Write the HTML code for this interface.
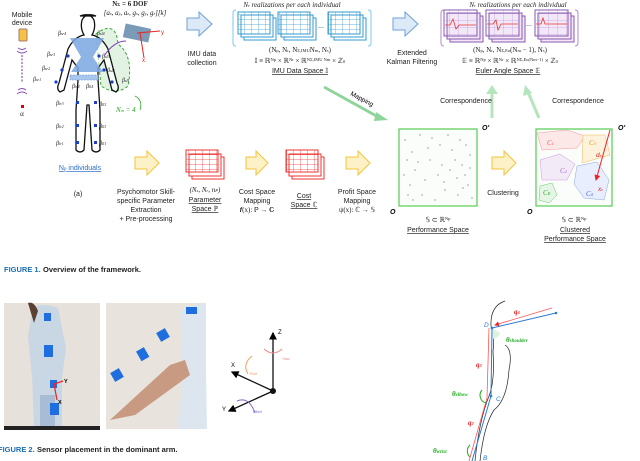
<!DOCTYPE html>
<html><head><meta charset="utf-8"><style>
html,body{margin:0;padding:0;background:#fff;}
svg{display:block;font-family:"Liberation Sans",sans-serif;}
.t{font-size:7px;fill:#222;text-anchor:middle}
.m{font-family:"Liberation Serif",serif;font-size:7px;fill:#222;text-anchor:middle}
</style></head><body>
<svg width="640" height="461" viewBox="0 0 640 461">
<defs>
<pattern id="gb" width="7" height="5" patternUnits="userSpaceOnUse"><path d="M7 0V5M0 5H7" stroke="#39c" stroke-width="0.7" fill="none"/></pattern>
<pattern id="gr" width="7" height="5" patternUnits="userSpaceOnUse"><path d="M7 0V5M0 5H7" stroke="#e33" stroke-width="0.7" fill="none"/></pattern>
<pattern id="gp" width="9" height="7" patternUnits="userSpaceOnUse"><path d="M9 0V7M0 7H9" stroke="#a7c" stroke-width="0.5" fill="none"/></pattern>
<marker id="ar" markerWidth="6" markerHeight="6" refX="5" refY="3" orient="auto"><path d="M0,0L6,3L0,6z" fill="#000"/></marker>
<marker id="arr" markerWidth="6" markerHeight="6" refX="5" refY="3" orient="auto"><path d="M0,0L6,3L0,6z" fill="#e22"/></marker>
</defs>
<!-- mobile -->
<text class="t" x="22" y="17">Mobile</text>
<text class="t" x="22" y="25">device</text>
<rect x="19" y="29" width="8" height="12" rx="1" fill="#f5c242" stroke="#a77"/>
<path d="M18 48q4 3 8 0M17 51q5 4 10 0" stroke="#8a4fb5" fill="none"/>
<line x1="22" y1="55" x2="22" y2="83" stroke="#8a4fb5" stroke-dasharray="2,1.5" stroke-width="1.2"/>
<path d="M18 90q4-3 8 0M17 94q5-4 10 0" stroke="#8a4fb5" fill="none"/>
<rect x="21" y="105" width="3" height="3" fill="#d00"/>
<text class="m" x="22" y="116">α</text>
<!-- body -->
<path d="M96 34q20-15 22 10q16 12 10 42q-12 10-27 0z" fill="#e3f3e3" stroke="#3a3" stroke-dasharray="3,2"/>
<path d="M80 16q10-4 14 4q2 8-2 15q10 2 16 14l9 34q3 6-1 9l-4-2-8-30-6 8 0 12 2 30 0 40q-4 4-8 0l-3-45-2 0-3 45q-4 4-8 0l0-40 2-30 0-12-6-8-8 30-4 2q-4-3-1-9l9-34q6-12 16-14q-4-7-2-15q4-8 14-4z" fill="#fff" fill-opacity="0.6" stroke="#111" stroke-width="1.3"/>
<path d="M70 38l34 0-11 19 10 15-32 0 10-15z" fill="#7aa6e0" opacity="0.85"/>
<rect x="70" y="75" width="28" height="5" fill="#a8c6ee" stroke="#5b8fd8" stroke-dasharray="2,1" stroke-width="0.6"/>
<g fill="#1a3fd0"><circle cx="68" cy="56" r="1.6"/><circle cx="62" cy="70" r="1.6"/><circle cx="56" cy="82" r="1.6"/><circle cx="104" cy="70" r="1.6"/><circle cx="112" cy="82" r="1.6"/><circle cx="99" cy="56" r="1.6"/><rect x="76" y="101" width="3" height="3"/><rect x="94" y="101" width="3" height="3"/><rect x="76" y="124" width="3" height="3"/><rect x="94" y="124" width="3" height="3"/><rect x="76" y="141" width="3" height="3"/><rect x="94" y="141" width="3" height="3"/></g>
<g font-family="Liberation Serif" font-size="6" font-style="italic" fill="#222"><text x="58" y="35">β<tspan font-size="4">sr4</tspan></text><text x="97" y="35">β<tspan font-size="4">sl4</tspan></text><text x="47" y="56">β<tspan font-size="4">sr3</tspan></text><text x="102" y="58">β<tspan font-size="4">sl3</tspan></text><text x="42" y="70">β<tspan font-size="4">sr2</tspan></text><text x="107" y="72">β<tspan font-size="4">sl2</tspan></text><text x="33" y="81">β<tspan font-size="4">sr1</tspan></text><text x="122" y="82">β<tspan font-size="4">sl1</tspan></text><text x="72" y="88">β<tspan font-size="4">lr4</tspan></text><text x="86" y="88">β<tspan font-size="4">ll4</tspan></text><text x="56" y="105">β<tspan font-size="4">lr3</tspan></text><text x="99" y="106">β<tspan font-size="4">ll3</tspan></text><text x="56" y="128">β<tspan font-size="4">lr2</tspan></text><text x="99" y="128">β<tspan font-size="4">ll3</tspan></text><text x="56" y="145">β<tspan font-size="4">lr1</tspan></text><text x="99" y="145">β<tspan font-size="4">ll1</tspan></text></g>
<text x="116" y="112" fill="#2a2" font-family="Liberation Serif" font-size="7" font-style="italic">N<tspan font-size="4.5">m</tspan> = 4</text>
<path d="M135 96q8 4 5 14" stroke="#3a3" fill="none" stroke-width="0.8"/>
<text class="m" x="130" y="6" font-size="7" font-weight="bold">N<tspan font-size="4.5">Σ</tspan> = 6 DOF</text>
<text class="m" x="135" y="15" font-size="6.5" font-style="italic">[a<tspan font-size="4">x</tspan>, a<tspan font-size="4">y</tspan>, a<tspan font-size="4">z</tspan>, g<tspan font-size="4">x</tspan>, g<tspan font-size="4">y</tspan>, g<tspan font-size="4">z</tspan>][k]</text>
<rect x="124" y="26" width="26" height="14" fill="#7a9ab8" transform="rotate(12 137 33)"/>
<path d="M104 56q10-15 22-15" stroke="#7a3fb5" fill="none"/>
<line x1="137" y1="33" x2="160" y2="31" stroke="#e22" stroke-width="1"/><line x1="140" y1="33" x2="144" y2="58" stroke="#e22"/>
<text x="161" y="34" fill="#e22" font-size="6">y</text><text x="142" y="62" fill="#e22" font-size="6">x</text>
<text x="80" y="170" fill="#2b6cc4" font-size="7" text-anchor="middle" text-decoration="underline">N<tspan font-size="4.5">p</tspan> individuals</text>
<text class="t" x="78" y="196" font-size="8">(a)</text>
<!-- top arrows -->
<path d="M187 18h12v-6l13 12-13 12v-6h-12z" fill="#dce9f7" stroke="#6fa0d8"/>
<text class="t" x="202" y="56">IMU data</text><text class="t" x="202" y="65">collection</text>
<path d="M393 18h12v-6l13 12-13 12v-6h-12z" fill="#dce9f7" stroke="#6fa0d8"/>
<text class="t" x="412" y="55">Extended</text><text class="t" x="412" y="64">Kalman Filtering</text>
<!-- IMU space -->
<text class="m" x="292" y="7" font-style="italic">N<tspan font-size="4.5">r</tspan> realizations per each individual</text>
<path d="M236 10q-3 0-3 3v30q0 3 3 3" stroke="#7cc8ef" fill="none"/><path d="M368 10q3 0 3 3v30q0 3-3 3" stroke="#7cc8ef" fill="none"/>
<g><rect x="244" y="18" width="32" height="22" fill="#fff" stroke="#39c"/><rect x="241" y="15" width="32" height="22" fill="#fff" stroke="#39c"/><rect x="238" y="12" width="32" height="22" fill="url(#gb)" stroke="#39c"/>
<rect x="284" y="18" width="32" height="22" fill="#fff" stroke="#39c"/><rect x="281" y="15" width="32" height="22" fill="#fff" stroke="#39c"/><rect x="278" y="12" width="32" height="22" fill="url(#gb)" stroke="#39c"/>
<rect x="334" y="18" width="32" height="22" fill="#fff" stroke="#39c"/><rect x="331" y="15" width="32" height="22" fill="#fff" stroke="#39c"/><rect x="328" y="12" width="32" height="22" fill="url(#gb)" stroke="#39c"/>
<text x="318" y="28" font-size="6">…</text></g>
<text class="m" x="300" y="52">(N<tspan font-size="4.5">p</tspan>, N<tspan font-size="4.5">r</tspan>, N<tspan font-size="4.5">Σ,IMU</tspan>N<tspan font-size="4.5">m</tspan>, N<tspan font-size="4.5">s</tspan>)</text>
<text class="m" x="300" y="63">𝕀 ≡ ℝ<tspan font-size="4.5" dy="-2">Np</tspan><tspan dy="2"> × ℝ</tspan><tspan font-size="4.5" dy="-2">Nr</tspan><tspan dy="2"> × ℝ</tspan><tspan font-size="4.5" dy="-2">NΣ,IMU Nm</tspan><tspan dy="2"> × ℤ</tspan><tspan font-size="4.5">0</tspan></text>
<text class="t" x="300" y="73" text-decoration="underline">IMU Data Space 𝕀</text>
<!-- Euler -->
<text class="m" x="518" y="7" font-style="italic">N<tspan font-size="4.5">r</tspan> realizations per each individual</text>
<path d="M444 10q-3 0-3 3v30q0 3 3 3" stroke="#b08acb" fill="none"/><path d="M575 10q3 0 3 3v30q0 3-3 3" stroke="#b08acb" fill="none"/>
<g stroke="#8a5ab0" fill="#f2e8f7">
<rect x="450" y="16" width="33" height="26"/><rect x="447" y="13" width="33" height="26"/><rect x="444" y="10" width="33" height="26" fill="url(#gp)"/>
<rect x="492" y="16" width="33" height="26"/><rect x="489" y="13" width="33" height="26"/><rect x="486" y="10" width="33" height="26" fill="url(#gp)"/>
<rect x="541" y="16" width="33" height="26"/><rect x="538" y="13" width="33" height="26"/><rect x="535" y="10" width="33" height="26" fill="url(#gp)"/></g>
<g stroke="#e33" fill="none" stroke-width="0.8"><path d="M445 25h5l3-6 3 10 3-4h17"/><path d="M487 24h6l3-4 2 10 3-6h17"/><path d="M536 24h5l2-6 2 6h22"/></g>
<text x="526" y="26" font-size="6">…</text>
<text class="m" x="510" y="52">(N<tspan font-size="4.5">p</tspan>, N<tspan font-size="4.5">r</tspan>, N<tspan font-size="4.5">Σ,Eu</tspan>(N<tspan font-size="4.5">m</tspan> − 1), N<tspan font-size="4.5">s</tspan>)</text>
<text class="m" x="510" y="63">𝔼 ≡ ℝ<tspan font-size="4.5" dy="-2">Np</tspan><tspan dy="2"> × ℝ</tspan><tspan font-size="4.5" dy="-2">Nr</tspan><tspan dy="2"> × ℝ</tspan><tspan font-size="4.5" dy="-2">NΣ,Eu(Nm−1)</tspan><tspan dy="2"> × ℤ</tspan><tspan font-size="4.5">0</tspan></text>
<text class="t" x="508" y="73" text-decoration="underline">Euler Angle Space 𝔼</text>
<!-- mapping arrows -->
<line x1="324" y1="87" x2="380" y2="118" stroke="#8fd49b" stroke-width="3"/><path d="M376 112l12 8-14 1z" fill="#8fd49b"/>
<text x="350" y="95" font-size="6.5" transform="rotate(28 350 95)">Mapping</text>
<line x1="492" y1="118" x2="492" y2="92" stroke="#b5e5bd" stroke-width="3"/><path d="M486 94l6-9 6 9z" fill="#b5e5bd"/>
<line x1="539" y1="118" x2="528" y2="92" stroke="#b5e5bd" stroke-width="3"/><path d="M523 96l2-11 7 8z" fill="#b5e5bd"/>
<text class="t" x="466" y="103">Correspondence</text><text class="t" x="578" y="103">Correspondence</text>
<!-- perf plot -->
<rect x="399" y="129" width="78" height="77" fill="#fbfdfb" stroke="#5c5" stroke-width="1.2"/>
<g fill="#666">
<circle cx="405" cy="140" r=".6"/><circle cx="412" cy="152" r=".6"/><circle cx="420" cy="135" r=".6"/><circle cx="430" cy="160" r=".6"/><circle cx="440" cy="145" r=".6"/><circle cx="450" cy="170" r=".6"/><circle cx="460" cy="140" r=".6"/><circle cx="468" cy="185" r=".6"/><circle cx="408" cy="195" r=".6"/><circle cx="425" cy="180" r=".6"/><circle cx="445" cy="190" r=".6"/><circle cx="470" cy="155" r=".6"/><circle cx="415" cy="170" r=".6"/><circle cx="435" cy="200" r=".6"/><circle cx="455" cy="160" r=".6"/><circle cx="465" cy="175" r=".6"/><circle cx="410" cy="185" r=".6"/><circle cx="428" cy="148" r=".6"/><circle cx="448" cy="135" r=".6"/><circle cx="472" cy="198" r=".6"/><circle cx="418" cy="162" r=".6"/><circle cx="438" cy="175" r=".6"/><circle cx="458" cy="195" r=".6"/><circle cx="462" cy="165" r=".6"/><circle cx="404" cy="175" r=".6"/><circle cx="452" cy="150" r=".6"/><circle cx="442" cy="165" r=".6"/><circle cx="422" cy="195" r=".6"/><circle cx="432" cy="138" r=".6"/><circle cx="466" cy="145" r=".6"/><circle cx="457" cy="178" r=".6"/><circle cx="463" cy="188" r=".6"/><circle cx="407" cy="160" r=".6"/><circle cx="413" cy="200" r=".6"/><circle cx="444" cy="182" r=".6"/><circle cx="470" cy="168" r=".6"/>
</g>
<text x="482" y="130" font-size="7" font-style="italic" font-weight="bold">O'</text><text x="390" y="214" font-size="7" font-style="italic" font-weight="bold">O</text>
<text class="m" x="438" y="222">𝕊 ⊂ ℝ<tspan font-size="4.5" dy="-2">Np</tspan></text>
<text class="t" x="438" y="232" text-decoration="underline">Performance Space</text>
<!-- clustered -->
<rect x="536" y="129" width="76" height="77" fill="#fbfdfb" stroke="#5c5" stroke-width="1.2"/>
<path d="M537 133l30-3 18 6-8 12-35 2z" fill="#fde8e8" stroke="#e99" stroke-width=".5"/>
<path d="M583 135l22 0 5 20-28 8z" fill="#fdf2dc" stroke="#eb5" stroke-width=".5"/>
<path d="M540 160l20-6 15 10-8 16-25 0z" fill="#f3eaf8" stroke="#c9d" stroke-width=".5"/>
<path d="M577 166l20-4 12 18-5 20-20-2-10-14z" fill="#e8eefd" stroke="#8ad" stroke-width=".5"/>
<path d="M540 186l12-3 5 12-8 8-10-3z" fill="#e6f6e6" stroke="#6c6" stroke-width=".5"/>
<g font-size="7" font-style="italic" font-family="Liberation Serif"><text x="547" y="145" fill="#e55">C<tspan font-size="4.5">1</tspan></text><text x="589" y="145" fill="#d90">C<tspan font-size="4.5">3</tspan></text><text x="560" y="173" fill="#a6c">C<tspan font-size="4.5">2</tspan></text><text x="586" y="196" fill="#46c">C<tspan font-size="4.5">4</tspan></text><text x="543" y="195" fill="#3a3">C<tspan font-size="4.5">K</tspan></text></g>
<line x1="610" y1="130" x2="596" y2="180" stroke="#e22" marker-end="url(#arr)"/>
<text x="596" y="157" fill="#e22" font-size="6.5" font-style="italic">d<tspan font-size="4">ε</tspan></text>
<text x="598" y="191" fill="#e22" font-size="6.5" font-style="italic">x<tspan font-size="4">ε</tspan></text>
<text x="618" y="130" font-size="7" font-style="italic" font-weight="bold">O'</text><text x="527" y="214" font-size="7" font-style="italic" font-weight="bold">O</text>
<text class="m" x="574" y="222">𝕊 ⊂ ℝ<tspan font-size="4.5" dy="-2">Np</tspan></text>
<text class="t" x="575" y="232" text-decoration="underline">Clustered</text>
<text class="t" x="575" y="241" text-decoration="underline">Performance Space</text>
<!-- bottom row -->
<g fill="#fdf1c8" stroke="#f3c53a">
<path d="M135 157h12v-6l12 12-12 12v-6h-12z"/><path d="M246 157h10v-6l12 12-12 12v-6h-10z"/><path d="M346 157h12v-6l12 12-12 12v-6h-12z"/><path d="M492 157h12v-6l12 12-12 12v-6h-12z"/></g>
<text class="t" x="146" y="194">Psychomotor Skill-</text><text class="t" x="146" y="203">specific Parameter</text><text class="t" x="146" y="212">Extraction</text><text class="t" x="146" y="221">+ Pre-processing</text>
<g stroke="#e33"><rect x="192" y="157" width="32" height="22" fill="#fff"/><rect x="189" y="154" width="32" height="22" fill="#fff"/><rect x="186" y="150" width="32" height="22" fill="url(#gr)"/>
<rect x="292" y="157" width="32" height="22" fill="#fff"/><rect x="289" y="154" width="32" height="22" fill="#fff"/><rect x="286" y="150" width="32" height="22" fill="url(#gr)"/></g>
<text class="m" x="205" y="192" font-style="italic">(N<tspan font-size="4.5">s</tspan>, N<tspan font-size="4.5">r</tspan>, n<tspan font-size="4.5">P</tspan>)</text>
<text class="t" x="205" y="202" text-decoration="underline">Parameter</text><text class="t" x="205" y="211" text-decoration="underline">Space ℙ</text>
<text class="t" x="257" y="194">Cost Space</text><text class="t" x="257" y="203">Mapping</text><text class="m" x="257" y="212">𝒇(x): ℙ → ℂ</text>
<text class="t" x="304" y="198" text-decoration="underline">Cost</text><text class="t" x="304" y="207" text-decoration="underline">Space ℂ</text>
<text class="t" x="357" y="194">Profit Space</text><text class="t" x="357" y="203">Mapping</text><text class="m" x="357" y="212">ψ(x): ℂ → 𝕊</text>
<text class="t" x="503" y="195">Clustering</text>
<!-- captions -->
<text x="4" y="272" font-size="7.5" font-weight="bold" fill="#1a6fb3">FIGURE 1.</text><text x="43" y="272" font-size="7.5" font-weight="bold" fill="#222">Overview of the framework.</text>
<text x="-2" y="452" font-size="7.5" font-weight="bold" fill="#1a6fb3">FIGURE 2.</text><text x="37" y="452" font-size="7.5" font-weight="bold" fill="#222">Sensor placement in the dominant arm.</text>
<!-- photos -->
<rect x="4" y="303" width="96" height="127" fill="#e6e1da"/>
<rect x="4" y="426" width="96" height="4" fill="#222"/>
<path d="M33 308q8-6 25 0l8 40-4 30 0 48h-28l-2-50-4-40z" fill="#c9d6e4"/>
<path d="M28 303q6-2 10 8l-4 12z" fill="#5a4030"/>
<path d="M40 395l15 0 0 31h-15z" fill="#a9bcd6"/>
<g fill="#1f6ee0"><rect x="44" y="313" width="7" height="8"/><rect x="44" y="345" width="9" height="12"/><rect x="50" y="380" width="7" height="8"/><rect x="50" y="403" width="9" height="12"/></g>
<line x1="54" y1="384" x2="63" y2="381" stroke="#e22" stroke-width="1.2"/><line x1="54" y1="384" x2="57" y2="400" stroke="#e22" stroke-width="1.2"/>
<text x="64" y="383" font-size="5.5" font-weight="bold">Y</text><text x="58" y="404" font-size="5.5" font-weight="bold">X</text>
<rect x="106" y="303" width="100" height="126" fill="#e8e3dc"/>
<path d="M180 312q10-8 25-8l2 125h-30l5-40 0-40z" fill="#dde6ee"/>
<path d="M110 420l60-55 15-5 5 15-55 40z" fill="#c99a82"/>
<g fill="#1f6ee0"><rect x="186" y="307" width="11" height="7"/><rect x="158" y="330" width="10" height="10" transform="rotate(-30 163 335)"/><rect x="138" y="349" width="9" height="11" transform="rotate(-30 142 354)"/><rect x="112" y="370" width="10" height="10" transform="rotate(-30 117 375)"/></g>
<!-- axes -->
<g stroke="#111" stroke-width="1.3"><line x1="273" y1="391" x2="273" y2="333" marker-end="url(#ar)"/><line x1="273" y1="391" x2="232" y2="372" marker-end="url(#ar)"/><line x1="273" y1="391" x2="229" y2="411" marker-end="url(#ar)"/></g>
<circle cx="273" cy="391" r="3" fill="#111"/>
<text x="278" y="334" font-size="6">Z</text><text x="231" y="367" font-size="6">X</text><text x="222" y="411" font-size="6">Y</text>
<path d="M264 349q9 8 18 0" stroke="#e88" fill="none"/><text x="282" y="360" font-size="4" fill="#e88">Yaw</text>
<path d="M248 374q-6-10 4-18" stroke="#f0a060" fill="none"/><text x="250" y="375" font-size="4" fill="#f0a060">Roll</text>
<path d="M237 401q12-5 18 12" stroke="#86c" fill="none"/><text x="253" y="413" font-size="4" fill="#86c">Pitch</text>
<!-- arm -->
<path d="M505 301q-15 5-14 25q4 15 2 25q2 30-4 45q-10 25-14 65M505 345q8 5 4 25q-2 30-15 40q-10 15-14 51" stroke="#222" fill="none" stroke-width=".7"/>
<path d="M492 328l8 5a8 8 0 0 1-8 6z" fill="#dff2df"/>
<line x1="492" y1="328" x2="556" y2="313" stroke="#2a7ad8" stroke-width="1"/><line x1="492" y1="328" x2="491" y2="396" stroke="#2a7ad8"/><line x1="491" y1="396" x2="472" y2="461" stroke="#2a7ad8"/>
<line x1="552" y1="308" x2="495" y2="325" stroke="#f55" stroke-width=".8" marker-end="url(#arr)"/><line x1="489" y1="328" x2="487" y2="398" stroke="#f55" stroke-width=".8"/><line x1="487" y1="398" x2="469" y2="461" stroke="#f55" stroke-width=".8"/>
<g fill="#2a7ad8"><circle cx="492" cy="328" r="1.3"/><circle cx="556" cy="313" r="1.3"/><circle cx="491" cy="396" r="1.3"/></g>
<text x="484" y="327" font-size="6.5" font-style="italic" fill="#2a7ad8">D</text><text x="496" y="401" font-size="6.5" font-style="italic" fill="#2a7ad8">C</text><text x="483" y="460" font-size="6.5" font-style="italic" fill="#2a7ad8">B</text>
<g font-family="Liberation Serif" font-style="italic" font-weight="bold" fill="#e22" font-size="7"><text x="514" y="314">q<tspan font-size="4.5">4</tspan></text><text x="476" y="367">q<tspan font-size="4.5">3</tspan></text><text x="468" y="425">q<tspan font-size="4.5">2</tspan></text></g>
<g font-family="Liberation Serif" font-style="italic" font-weight="bold" fill="#2a2" font-size="7"><text x="506" y="342">θ<tspan font-size="5">shoulder</tspan></text><text x="452" y="396">θ<tspan font-size="5">elbow</tspan></text><text x="433" y="453">θ<tspan font-size="5">wrist</tspan></text></g>
<path d="M482 390a8 8 0 0 0 4 13" stroke="#2a2" fill="none"/><path d="M470 445a8 8 0 0 0 0 12" stroke="#2a2" fill="none"/>
</svg>
</body></html>
